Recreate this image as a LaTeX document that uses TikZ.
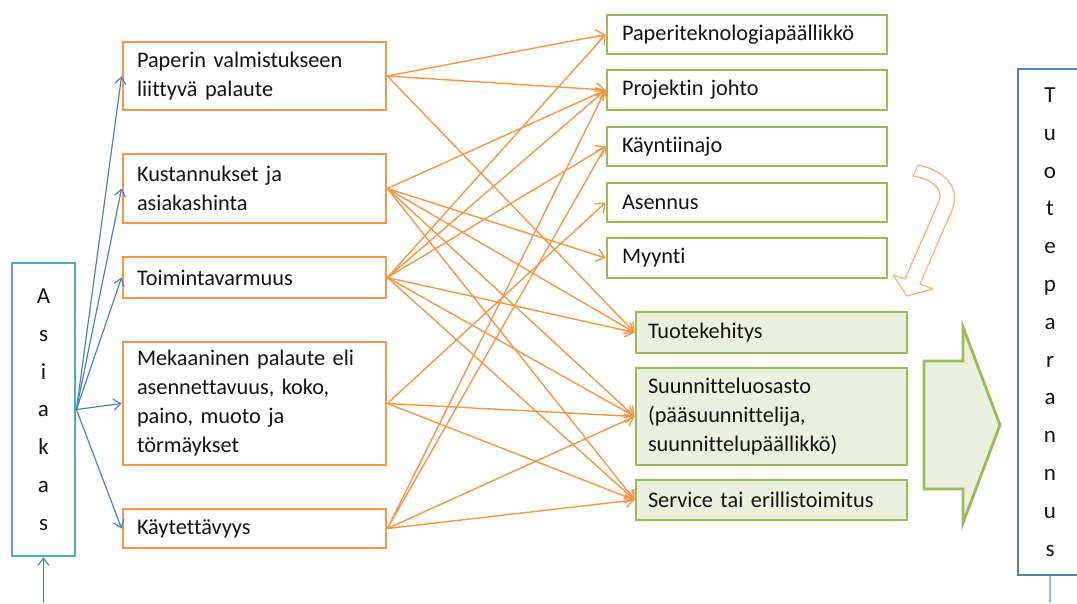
\documentclass[tikz,border=0pt]{standalone}
\usepackage{fontspec}
\setmainfont{Carlito}[Ligatures=CommonOff]
\usetikzlibrary{arrows.meta}
\definecolor{orng}{HTML}{F79646}
\definecolor{grn}{HTML}{9BBB59}
\definecolor{gfill}{HTML}{EBF1DE}
\definecolor{aqua}{HTML}{4BACC6}
\definecolor{blu}{HTML}{4F81BD}
\definecolor{txt}{HTML}{141414}
\tikzset{
  lbox/.style={draw=orng, line width=2.8pt, fill=white, text width=235pt, align=left, inner xsep=14pt, inner ysep=0pt, text=txt},
  rbox/.style={draw=grn, line width=2.8pt, fill=white, text width=250pt, align=left, inner xsep=15pt, inner ysep=0pt, text=txt},
  gbox/.style={draw=grn, line width=2.8pt, fill=gfill, text width=247pt, align=left, inner xsep=12pt, inner ysep=0pt, text=txt},
  vbox/.style={line width=2.8pt, fill=white, align=center, inner sep=0pt, text=txt, font=\fontsize{23}{37.8}\selectfont},
  oarr/.style={draw=orng, line width=1.4pt, -{Straight Barb[length=8pt,width=13pt]}},
  barr/.style={draw=blu, line width=1.2pt, -{Straight Barb[length=7pt,width=11pt]}},
}
\begin{document}
\begin{tikzpicture}[x=1pt,y=-1pt,font=\fontsize{22.3}{29}\selectfont]
\useasboundingbox (0,0) rectangle (1077,603);

% left column
\node[lbox, minimum height=68pt] (l1) at (254.5,76) {Paperin valmistukseen\\liittyvä palaute};
\node[lbox, minimum height=69pt] (l2) at (254.5,188.5) {Kustannukset ja\\asiakashinta};
\node[lbox, minimum height=41pt] (l3) at (254.5,277.5) {Toimintavarmuus};
\node[lbox, minimum height=123pt] (l4) at (254.5,403.5) {Mekaaninen palaute eli\\asennettavuus, koko,\\paino, muoto ja\\törmäykset};
\node[lbox, minimum height=39pt] (l5) at (254.5,528.5) {Käytettävyys};

% right column, white
\node[rbox, minimum height=39pt] (r1) at (747,34.5) {Paperiteknologiapäällikkö};
\node[rbox, minimum height=40pt] (r2) at (747,90) {Projektin johto};
\node[rbox, minimum height=39pt] (r3) at (747,146.5) {Käyntiinajo};
\node[rbox, minimum height=39pt] (r4) at (747,202.5) {Asennus};
\node[rbox, minimum height=40pt] (r5) at (747,258) {Myynti};

% right column, filled
\node[gbox, minimum height=41pt] (g1) at (771.5,332.5) {Tuotekehitys};
\node[gbox, minimum height=97pt] (g2) at (771.5,416.5) {Suunnitteluosasto\\(pääsuunnittelija,\\suunnittelupäällikkö)};
\node[gbox, minimum height=40pt] (g3) at (771.5,500) {Service tai erillistoimitus};

% vertical boxes
\node[vbox, draw=aqua, minimum width=63pt, minimum height=293pt] (as) at (43.5,409.5) {A\\s\\i\\a\\k\\a\\s};
\node[vbox, draw=blu, minimum width=64pt, minimum height=506pt] (tp) at (1050,322) {T\\u\\o\\t\\e\\p\\a\\r\\a\\n\\n\\u\\s};

% blue arrows
\foreach \t in {l1,l2,l3,l4,l5} \draw[barr] (as.east) -- (\t.west);
\coordinate (asin) at (43.5,603);
\draw[barr] (asin) -- (as.south);
\coordinate (tpout) at (1050,603);
\draw[draw=blu!55, line width=2pt] (tp.south) -- (tpout);

% orange arrows
\foreach \t in {r1,r2,g1} \draw[oarr] (l1.east) -- (\t.west);
\foreach \t in {r2,r5,g1,g2,g3} \draw[oarr] (l2.east) -- (\t.west);
\foreach \t in {r1,r2,r3,g1,g2,g3} \draw[oarr] (l3.east) -- (\t.west);
\foreach \t in {r4,g2,g3} \draw[oarr] (l4.east) -- (\t.west);
\foreach \t in {r2,r3,g2,g3} \draw[oarr] (l5.east) -- (\t.west);

% hollow curved arrow
\draw[draw=orng!75, line width=1.2pt, line join=round]
  (918,165) .. controls (942,170) and (962,186) .. (952,210) -- (920,284) -- (933,289) -- (907,296) -- (893,275) -- (905,279)
  -- (939,201) .. controls (944,189) and (932,179) .. (913,176) -- cycle;

% big green arrow
\draw[draw=grn, fill=gfill, line width=2.8pt, line join=miter]
  (924,361) -- (963,361) -- (963,327) -- (1000,425) -- (963,523) -- (963,489) -- (924,489) -- cycle;
\end{tikzpicture}
\end{document}
